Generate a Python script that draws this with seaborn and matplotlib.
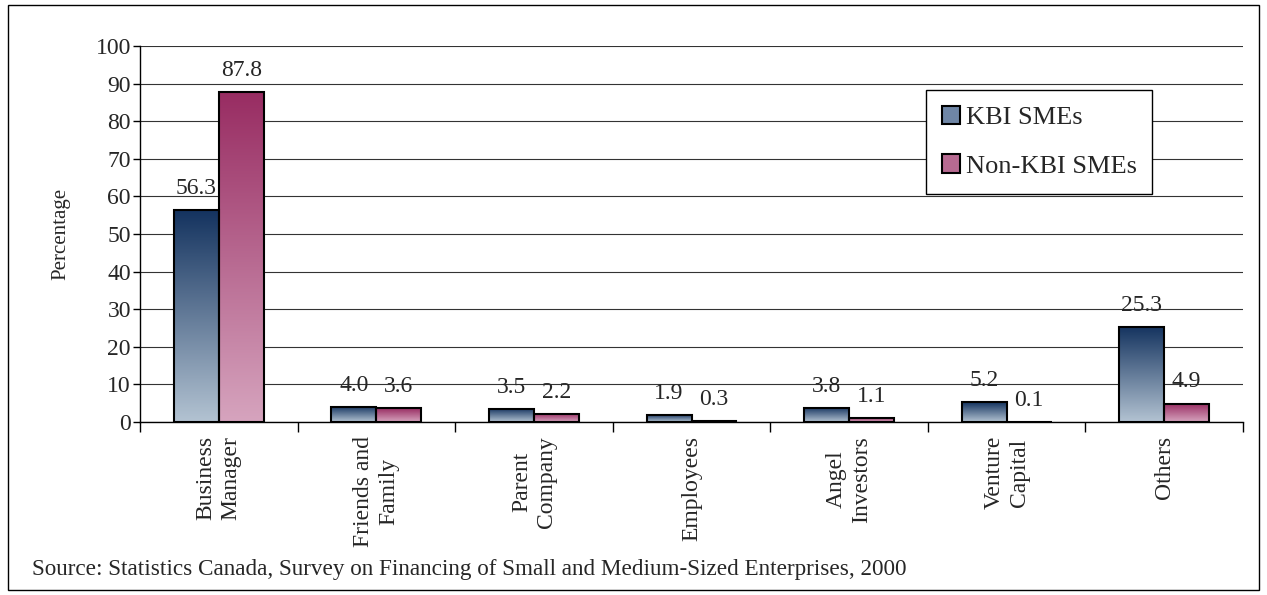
import numpy as np
import pandas as pd
import matplotlib
matplotlib.use("Agg")
import matplotlib.pyplot as plt
import seaborn as sns
from matplotlib.colors import LinearSegmentedColormap
from matplotlib.patches import Rectangle, Patch

categories = ["Business\nManager", "Friends and\nFamily", "Parent\nCompany", "Employees",
              "Angel\nInvestors", "Venture\nCapital", "Others"]
kbi = [56.3, 4.0, 3.5, 1.9, 3.8, 5.2, 25.3]
non_kbi = [87.8, 3.6, 2.2, 0.3, 1.1, 0.1, 4.9]
series = ["KBI SMEs", "Non-KBI SMEs"]
yticks = list(range(0, 101, 10))
source = "Source: Statistics Canada, Survey on Financing of Small and Medium-Sized Enterprises, 2000"

# gradient ends (bottom -> top) per series
grad_colors = {"KBI SMEs": ("#b3c3d2", "#14335f"), "Non-KBI SMEs": ("#d6a4be", "#982c62")}
legend_colors = {"KBI SMEs": "#6f86a6", "Non-KBI SMEs": "#b76a91"}

sns.set_style("ticks")
plt.rcParams['font.family'] = ['Liberation Serif', 'DejaVu Serif']
plt.rcParams['font.size'] = 17

df = pd.DataFrame({
    'category': categories * 2,
    'value': kbi + non_kbi,
    'series': [series[0]] * len(categories) + [series[1]] * len(categories),
})

fig = plt.figure(figsize=(12.67, 5.95), dpi=100)
ax = fig.add_axes([140 / 1267, 1 - 422 / 595, (1243 - 140) / 1267, (422 - 46) / 595])

sns.barplot(data=df, x='category', y='value', hue='series', order=categories, hue_order=series,
            width=0.57, gap=0, legend=False, ax=ax, edgecolor='black', linewidth=1.5,
            err_kws={'linewidth': 0})

grad = np.linspace(0, 1, 256).reshape(-1, 1)
for name, cont in zip(series, ax.containers):
    cmap = LinearSegmentedColormap.from_list(name, list(grad_colors[name]))
    for p in cont.patches:
        x0, y0, w, h = p.get_x(), p.get_y(), p.get_width(), p.get_height()
        img = ax.imshow(grad, cmap=cmap, extent=(x0, x0 + w, y0, y0 + h), origin='lower',
                        aspect='auto', zorder=2, interpolation='bilinear')
        img.set_clip_path(p)
        p.set_facecolor('none')
        p.set_zorder(3)
    ax.bar_label(cont, fmt='%.1f', padding=8, fontsize=17)

ax.set_xlim(-0.5, len(categories) - 0.5)
ax.set_ylim(0, 100)
ax.set_aspect('auto')
ax.set_yticks(yticks)
ax.yaxis.grid(True, color='#333333', linewidth=0.8)
ax.set_axisbelow(True)

ax.set_xticks(np.arange(-0.5, len(categories), 1.0))
ax.set_xticklabels([])
ax.set_xticks(range(len(categories)), minor=True)
ax.set_xticklabels(categories, minor=True, rotation=90, ha='center', va='top',
                   multialignment='center', fontsize=17, linespacing=1.25)
ax.tick_params(axis='x', which='major', length=7, width=1, color='black', direction='out')
ax.tick_params(axis='x', which='minor', length=0, pad=10)
ax.tick_params(axis='y', length=5, width=1, color='black', labelsize=17, pad=1.5)

for s in ['top', 'right']:
    ax.spines[s].set_visible(False)
for s in ['left', 'bottom']:
    ax.spines[s].set_color('black')
    ax.spines[s].set_linewidth(1)

ax.set_xlabel('')
ax.set_ylabel('Percentage', fontsize=15, labelpad=18)

handles = [Patch(facecolor=legend_colors[n], edgecolor='black', linewidth=1.5) for n in series]
leg = fig.legend(handles, series, loc='upper left', bbox_to_anchor=(926 / 1267, 1 - 90 / 595),
                 frameon=True, fancybox=False, framealpha=1, edgecolor='black', fontsize=19,
                 handlelength=0.7, handleheight=0.7, handletextpad=0.2, labelspacing=0.95,
                 borderpad=0.6, borderaxespad=0)
leg.get_frame().set_linewidth(1)

fig.text(32 / 1267, 1 - 570 / 595, source, fontsize=16.7, ha='left', va='center')
fig.patches.append(Rectangle((8 / 1267, 5 / 595), 1 - 16 / 1267, 1 - 10 / 595,
                             transform=fig.transFigure, fill=False, edgecolor='black',
                             linewidth=1))

fig.savefig('out.png', dpi=100)
